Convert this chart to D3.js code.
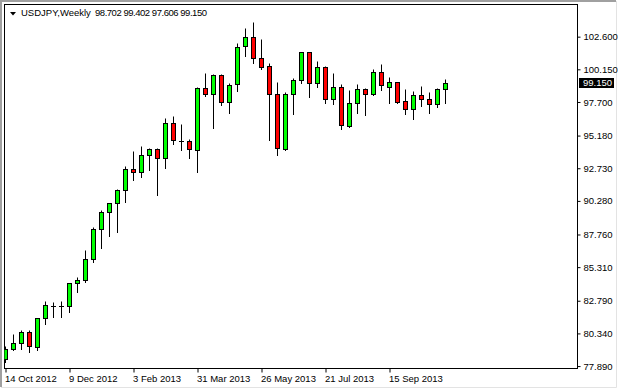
<!DOCTYPE html>
<html>
<head>
<meta charset="utf-8">
<script src="https://cdn.jsdelivr.net/npm/d3@7"></script>
<style>
  body { margin: 0; background: #fff; }
  svg { display: block; }
  text { font-family: Tahoma, "Liberation Sans", Arial, sans-serif; }
</style>
</head>
<body>
<script>
// weekly USDJPY candles, first week starts 14 Oct 2012
const firstWeek = "2012-10-14"
const opens  = [78.40, 79.20, 79.60, 80.43, 79.30, 81.47, 82.42, 82.40, 82.42, 84.10,
                84.33, 85.90, 88.15, 89.43, 90.10, 91.08, 92.65, 92.43, 93.70, 94.15,
                93.48, 96.10, 94.80, 94.74, 94.12, 98.73, 98.32, 99.70, 97.72, 99.03,
                101.88, 102.60, 100.98, 100.38, 98.28, 94.18, 98.28, 99.33, 101.43, 99.10,
                100.30, 97.90, 98.85, 95.92, 97.60, 98.65, 98.28, 99.93, 98.85, 99.18,
                97.75, 97.15, 98.20, 97.90, 97.53, 98.702]
const highs  = [79.40, 80.30, 80.60, 80.58, 81.50, 82.77, 82.70, 82.77, 84.12, 84.57,
                86.60, 88.30, 89.60, 90.15, 91.17, 92.90, 94.03, 94.40, 94.25, 94.25,
                96.50, 96.65, 96.05, 94.93, 98.80, 99.85, 99.78, 99.78, 99.15, 102.10,
                103.23, 103.73, 102.40, 100.60, 99.18, 98.43, 99.52, 101.45, 101.45, 100.78,
                100.40, 99.85, 99.05, 98.58, 99.05, 98.73, 100.18, 100.55, 99.60, 99.20,
                98.65, 98.53, 98.90, 98.45, 98.73, 99.402]
const lows   = [78.22, 79.10, 79.20, 78.97, 79.10, 81.02, 81.60, 81.60, 81.97, 83.47,
                84.22, 85.72, 86.73, 87.67, 87.97, 90.22, 91.85, 92.10, 92.60, 90.72,
                92.77, 94.53, 94.10, 93.48, 92.47, 98.15, 95.73, 97.48, 96.90, 98.53,
                101.17, 100.60, 100.15, 94.87, 93.73, 94.12, 96.82, 99.10, 98.10, 98.80,
                97.65, 97.53, 95.70, 95.85, 96.85, 96.70, 98.23, 98.60, 97.65, 97.65,
                96.80, 96.43, 97.42, 96.85, 97.35, 97.606]
const closes = [79.17, 79.60, 80.43, 79.37, 81.47, 82.45, 82.40, 82.41, 84.10, 84.33,
                85.90, 88.17, 89.43, 90.10, 91.08, 92.65, 92.43, 93.72, 94.15, 93.48,
                96.10, 94.85, 94.77, 94.14, 98.73, 98.32, 99.70, 97.72, 99.00, 101.85,
                102.60, 100.98, 100.35, 98.28, 94.23, 98.28, 99.33, 101.43, 99.10, 100.30,
                97.90, 98.85, 95.95, 97.60, 98.65, 98.28, 99.93, 98.95, 99.18, 97.72,
                97.20, 98.20, 97.90, 97.55, 98.65, 99.150]

const priceTicks = [77.89, 80.34, 82.79, 85.31, 87.76, 90.28, 92.73, 95.18, 97.70, 100.15, 102.60]
const dateTicks = ["2012-10-14", "2012-12-09", "2013-02-03", "2013-03-31", "2013-05-26", "2013-07-21", "2013-09-15"]
const symbol = "USDJPY,Weekly"

const W = 619, H = 390
const parse = d3.utcParse("%Y-%m-%d")
const start = parse(firstWeek)
const weeks = d3.utcSunday.range(start, d3.utcSunday.offset(start, opens.length))
const candles = weeks.map((d, i) => ({date: d, o: opens[i], h: highs[i], l: lows[i], c: closes[i]}))
const last = candles[candles.length - 1]

const plot = {left: 4.5, top: 4.5, right: 577.5, bottom: 368.5}

const x = d3.scaleUtc()
    .domain([weeks[0], weeks[weeks.length - 1]])
    .range([5.5, 445.5])
const y = d3.scaleLinear()
    .domain([77.67, 105.05])
    .range([369, 4])
const py = v => Math.round(y(v)) + 0.5

const svg = d3.select("body").append("svg")
    .attr("width", W)
    .attr("height", H)

svg.append("rect").attr("width", W).attr("height", H).attr("fill", "#fff")

// window frame
svg.append("path")
    .attr("d", `M1,${H - 3} V1 H${W - 3}`)
    .attr("fill", "none").attr("stroke", "#a0a0a0").attr("stroke-width", 2)
svg.append("path")
    .attr("d", `M1,${H - 2.5} H${W - 2.5} V1`)
    .attr("fill", "none").attr("stroke", "#e3e3e3").attr("stroke-width", 1)

svg.append("clipPath").attr("id", "clip")
  .append("rect")
    .attr("x", plot.left).attr("y", plot.top)
    .attr("width", plot.right - plot.left).attr("height", plot.bottom - plot.top)

// axes
const yAxis = d3.axisRight(y)
    .tickValues(priceTicks)
    .tickSize(3)
    .tickPadding(3)
    .tickFormat(d3.format(".3f"))

svg.append("g")
    .attr("transform", `translate(${plot.right},0)`)
    .call(yAxis)
    .call(g => g.select(".domain").remove())
    .call(g => g.selectAll("text").attr("fill", "#000").style("font-size", "9.5px"))

const xAxis = d3.axisBottom(x)
    .tickValues(dateTicks.map(parse))
    .tickSize(4)
    .tickPadding(3)
    .tickFormat(d3.utcFormat("%-d %b %Y"))

svg.append("g")
    .attr("transform", `translate(0,${plot.bottom})`)
    .call(xAxis)
    .call(g => g.select(".domain").remove())
    .call(g => g.selectAll("text")
        .attr("text-anchor", "start")
        .attr("x", -1)
        .attr("fill", "#000")
        .style("font-size", "9.5px"))

// plot frame
svg.append("rect")
    .attr("x", plot.left).attr("y", plot.top)
    .attr("width", plot.right - plot.left).attr("height", plot.bottom - plot.top)
    .attr("fill", "none").attr("stroke", "#000")

// candles
const cg = svg.append("g").attr("clip-path", "url(#clip)")
const candle = cg.selectAll("g")
    .data(candles)
    .join("g")
    .attr("transform", d => `translate(${x(d.date)},0)`)

candle.append("line")
    .attr("y1", d => py(d.h))
    .attr("y2", d => py(d.l) + 0.5)
    .attr("stroke", "#000")

candle.filter(d => Math.abs(py(d.o) - py(d.c)) >= 1)
  .append("rect")
    .attr("x", -2)
    .attr("width", 4)
    .attr("y", d => Math.min(py(d.o), py(d.c)))
    .attr("height", d => Math.abs(py(d.o) - py(d.c)))
    .attr("fill", d => d.c >= d.o ? "#00ff00" : "#ff0000")
    .attr("stroke", "#000")

candle.filter(d => Math.abs(py(d.o) - py(d.c)) < 1)
  .append("line")
    .attr("x1", -2.5).attr("x2", 2.5)
    .attr("y1", d => py(d.c)).attr("y2", d => py(d.c))
    .attr("stroke", "#000")

// last price marker
const lp = svg.append("g").attr("transform", `translate(579,${Math.round(y(last.c))})`)
lp.append("rect").attr("x", 0).attr("y", -5).attr("width", 35).attr("height", 10).attr("fill", "#000")
lp.append("text").attr("x", 4).attr("y", 0).attr("dy", "0.35em")
    .attr("fill", "#fff").style("font-size", "9.5px")
    .text(d3.format(".3f")(last.c))

// header
svg.append("path").attr("d", "M10,12 L16,12 L13,15.5 Z").attr("fill", "#000")
svg.append("text").attr("x", 21).attr("y", 16)
    .style("font-size", "9.5px").attr("fill", "#000")
    .text(symbol)
svg.append("text").attr("x", 95).attr("y", 16)
    .style("font-size", "9.5px").attr("fill", "#000")
    .attr("textLength", 112).attr("lengthAdjust", "spacing")
    .text([last.o, last.h, last.l, last.c].map(d3.format(".3f")).join(" "))
</script>
</body>
</html>
